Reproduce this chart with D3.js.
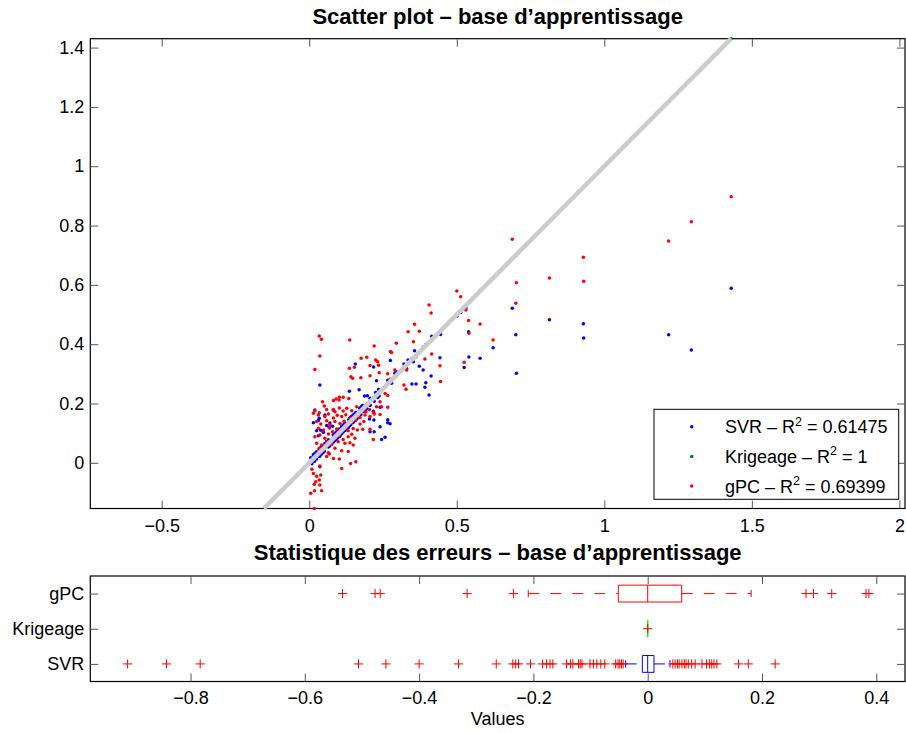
<!DOCTYPE html>
<html>
<head>
<meta charset="utf-8">
<script src="https://cdn.jsdelivr.net/npm/d3@7"></script>
<style>
  html, body { margin: 0; padding: 0; background: #fff; }
  svg { display: block; font-family: "Liberation Sans", Arial, Helvetica, sans-serif; }
</style>
</head>
<body>
<svg id="chart" width="906" height="733"></svg>
<script>
// ---------------------------------------------------------------------------
// Training base: observed value and the prediction of each surrogate model
// ---------------------------------------------------------------------------
const truth = [
  1.430, 1.295, 1.218, 0.929, 0.930, 0.814, 0.688, 0.700, 0.702, 0.623, 0.579, 0.540, 0.541, 0.525, 0.500, 0.513, 0.531, 0.443,
  0.406, 0.413, 0.357, 0.335, 0.373, 0.353, 0.295, 0.275, 0.279, 0.392, 0.415, 0.445, 0.290, 0.330, 0.321, 0.328, 0.266, 0.274,
  0.266, 0.257, 0.245, 0.266, 0.386, 0.348, 0.362, 0.395, 0.240, 0.228, 0.218, 0.220, 0.176, 0.195, 0.225, 0.232, 0.136, 0.153,
  0.206, 0.235, 0.175, 0.141, 0.147, 0.206, 0.237, 0.156, 0.169, 0.187, 0.197,
  0.034, 0.041, 0.036, 0.019, 0.137,
  0.045, 0.051, 0.082, 0.091, 0.102, 0.115, 0.101, 0.134,
  0.019, 0.034, 0.059, 0.082, 0.087, 0.102, 0.115, 0.127, 0.144, 0.161, 0.178, 0.192, 0.204, 0.219,
  0.014, 0.031, 0.053, 0.065, 0.082, 0.095, 0.110, 0.124, 0.138, 0.155, 0.172, 0.189, 0.206, 0.220, 0.240,
  0.025, 0.039, 0.059, 0.070, 0.087, 0.104, 0.118, 0.132, 0.144, 0.158, 0.172, 0.185,
  0.031, 0.048, 0.068, 0.079, 0.093, 0.110, 0.121, 0.132, 0.149, 0.163, 0.181, 0.206,
  0.019, 0.036, 0.053, 0.065, 0.082, 0.102, 0.115, 0.132, 0.144, 0.155, 0.217,
  0.025, 0.042, 0.059, 0.076, 0.098, 0.121, 0.138, 0.149,
  0.034, 0.048, 0.065, 0.087, 0.110, 0.132,
  0.014, 0.068, 0.082, 0.102, 0.059, 0.140, 0.158,
  0.009, 0.036, 0.110,
  0.014, 0.025, 0.039, 0.034, 0.022, 0.017, 0.036, 0.005, 0.018, 0.042, 0.017
];

const svrPred = [
  0.589, 0.380, 0.432, 0.469, 0.421, 0.482, 0.521, 0.432, 0.302, 0.388, 0.353, 0.442, 0.357, 0.321, 0.494, 0.507, 0.522, 0.354,
  0.229, 0.293, 0.378, 0.347, 0.326, 0.341, 0.307, 0.345, 0.268, 0.255, 0.427, 0.433, 0.302, 0.318, 0.333, 0.316, 0.278, 0.132,
  0.135, 0.086, 0.079, 0.145, 0.313, 0.266, 0.266, 0.270, 0.187, 0.277, 0.323, 0.208, 0.188, 0.183, 0.237, 0.220, 0.241, 0.165,
  0.194, 0.247, 0.163, 0.153, 0.135, 0.218, 0.225, 0.333, 0.246, 0.225, 0.226,
  0.022, 0.053, 0.262, 0.031, 0.125,
  0.057, 0.040, 0.094, 0.079, 0.114, 0.104, 0.090, 0.146,
  0.178, 0.150, 0.071, 0.070, 0.099, 0.090, 0.127, 0.115, 0.156, 0.149, 0.190, 0.180, 0.148, 0.144,
  0.135, 0.143, 0.161, 0.077, 0.177, 0.083, 0.122, 0.112, 0.150, 0.143, 0.184, 0.177, 0.105, 0.105, 0.122,
  0.108, 0.110, 0.126, 0.134, 0.099, 0.092, 0.130, 0.120, 0.156, 0.146, 0.184, 0.173,
  0.091, 0.103, 0.120, 0.123, 0.105, 0.098, 0.133, 0.120, 0.161, 0.151, 0.193, 0.194,
  0.031, 0.024, 0.065, 0.053, 0.094, 0.090, 0.127, 0.120, 0.156, 0.143, 0.174,
  0.037, 0.030, 0.071, 0.064, 0.110, 0.109, 0.150, 0.137,
  0.046, 0.036, 0.077, 0.075, 0.122, 0.120,
  0.026, 0.056, 0.094, 0.090, 0.071, 0.128, 0.170,
  -0.003, -0.013, 0.122,
  0.026, 0.013, 0.051, 0.022, 0.034, 0.005, 0.048, 0.017, 0.006, 0.054, 0.029
];

// Kriging interpolates the training base exactly (R² = 1)
const krigPred = truth.slice();

const gpcPred = [
  0.897, 0.813, 0.748, 0.693, 0.612, 0.623, 0.754, 0.538, 0.607, 0.414, 0.468, 0.480, 0.437, 0.339, 0.579, 0.560, 0.515, 0.327,
  0.532, 0.505, 0.467, 0.442, 0.444, 0.408, 0.403, 0.375, 0.372, 0.350, 0.367, 0.274, 0.313, 0.313, 0.262, 0.248, 0.300, 0.282,
  0.227, 0.234, 0.189, 0.187, 0.390, 0.352, 0.358, 0.399, 0.206, 0.189, 0.169, 0.394, 0.353, 0.356, 0.347, 0.341, 0.319, 0.322,
  0.328, 0.329, 0.287, 0.290, 0.285, 0.294, 0.304, 0.150, 0.172, 0.190, 0.200,
  0.428, 0.417, 0.360, 0.315, 0.414,
  0.206, 0.192, 0.210, 0.215, 0.221, 0.221, 0.212, 0.217,
  0.176, 0.169, 0.180, 0.180, 0.172, 0.185, 0.175, 0.184, 0.176, 0.189, 0.172, 0.172, 0.180, 0.169,
  0.167, 0.161, 0.156, 0.165, 0.151, 0.160, 0.156, 0.162, 0.150, 0.158, 0.153, 0.161, 0.156, 0.165, 0.163,
  0.139, 0.131, 0.142, 0.129, 0.139, 0.133, 0.140, 0.128, 0.135, 0.144, 0.131, 0.139,
  0.116, 0.111, 0.117, 0.105, 0.114, 0.105, 0.116, 0.108, 0.116, 0.111, 0.113, 0.113,
  0.088, 0.094, 0.083, 0.097, 0.086, 0.093, 0.079, 0.088, 0.096, 0.083, 0.079,
  0.066, 0.060, 0.071, 0.063, 0.071, 0.066, 0.068, 0.060,
  0.049, 0.043, 0.034, 0.049, 0.041, 0.038,
  0.009, 0.030, 0.015, 0.013, 0.021, -0.002, 0.004,
  -0.022, -0.011, -0.019,
  -0.036, -0.045, -0.041, -0.058, -0.064, -0.072, -0.075, -0.103, -0.094, -0.094, -0.154
];

const seriesNames = ["SVR", "Krigeage", "gPC"];
const seriesR2 = ["0.61475", "1", "0.69399"];

// Scatter axes
const scatterXLim = [-0.742, 2.019];
const scatterYLim = [-0.154, 1.430];
const scatterXTicks = [-0.5, 0, 0.5, 1, 1.5, 2];
const scatterYTicks = [0, 0.2, 0.4, 0.6, 0.8, 1, 1.2, 1.4];

// ---------------------------------------------------------------------------
// Error statistics (prediction − observation), one row per model
// ---------------------------------------------------------------------------
const boxGroups   = ["SVR", "Krigeage", "gPC"];      // rows 1..3, bottom to top
const boxQ1       = [-0.0094, 0, -0.0514];
const boxMedian   = [0.0, 0, 0.0];
const boxQ3       = [0.011, 0, 0.0595];
const whiskerLow  = [-0.0385, 0, -0.209];
const whiskerHigh = [0.039, 0, 0.181];
const svrOutliers = [
  -0.910, -0.842, -0.783, -0.506, -0.458, -0.400, -0.331, -0.265, -0.236, -0.231, -0.226, -0.205,
  -0.184, -0.177, -0.171, -0.166, -0.142, -0.135, -0.131, -0.121, -0.118, -0.115, -0.101, -0.095,
  -0.089, -0.082, -0.075, -0.056, -0.052, -0.049, -0.046, -0.043,
  0.044, 0.048, 0.052, 0.055, 0.060, 0.064, 0.067, 0.071, 0.077, 0.083, 0.095, 0.103, 0.108,
  0.112, 0.116, 0.121, 0.159, 0.176, 0.223
];
const krigOutliers = [0];
const gpcOutliers  = [-0.534, -0.477, -0.468, -0.316, -0.235, 0.277, 0.290, 0.322, 0.382, 0.387];
const boxOutliers  = [svrOutliers, krigOutliers, gpcOutliers];

const boxXLim  = [-0.9753, 0.4502];
const boxXTicks = [-0.8, -0.6, -0.4, -0.2, 0, 0.2, 0.4];

// ---------------------------------------------------------------------------
// Drawing
// ---------------------------------------------------------------------------
const FONT = "Liberation Sans, Arial, Helvetica, sans-serif";
const TICK_FS = 18;
const TITLE_FS = 22;
const svg = d3.select("#chart");
const fmt = d3.format("~g");

function styleAxis(sel) {
  sel.attr("font-size", null).attr("font-family", null);
  sel.select(".domain").remove();
  sel.selectAll(".tick line").attr("stroke", "#555").attr("stroke-width", 1);
  sel.selectAll(".tick text")
    .attr("fill", "#000")
    .style("font-size", TICK_FS + "px")
    .style("font-family", FONT);
  return sel;
}

function frame(p) {
  svg.append("rect")
    .attr("x", p.left).attr("y", p.top)
    .attr("width", p.right - p.left).attr("height", p.bottom - p.top)
    .attr("fill", "#fff").attr("stroke", "#000").attr("stroke-width", 1.2);
}

function inwardAxes(p, xs, ys, xTicks, yTicks, xFmt, yFmt, xPad) {
  svg.append("g").attr("transform", `translate(0,${p.bottom})`)
    .call(d3.axisBottom(xs).tickValues(xTicks).tickSizeInner(-8).tickSizeOuter(0)
      .tickPadding(xPad).tickFormat(xFmt))
    .call(styleAxis);
  svg.append("g").attr("transform", `translate(0,${p.top})`)
    .call(d3.axisTop(xs).tickValues(xTicks).tickSizeInner(-8).tickSizeOuter(0).tickFormat(""))
    .call(styleAxis);
  svg.append("g").attr("transform", `translate(${p.left},0)`)
    .call(d3.axisLeft(ys).tickValues(yTicks).tickSizeInner(-8).tickSizeOuter(0)
      .tickPadding(6).tickFormat(yFmt))
    .call(styleAxis);
  svg.append("g").attr("transform", `translate(${p.right},0)`)
    .call(d3.axisRight(ys).tickValues(yTicks).tickSizeInner(-8).tickSizeOuter(0).tickFormat(""))
    .call(styleAxis);
}

// ----- Scatter plot -----
const sp = { left: 90.3, right: 905, top: 38.7, bottom: 508.5 };
const sx = d3.scaleLinear().domain(scatterXLim).range([sp.left, sp.right]);
const sy = d3.scaleLinear().domain(scatterYLim).range([sp.bottom, sp.top]);

frame(sp);
inwardAxes(sp, sx, sy, scatterXTicks, scatterYTicks, fmt, fmt, 10.5);

svg.append("text")
  .attr("x", (sp.left + sp.right) / 2).attr("y", 24)
  .attr("text-anchor", "middle")
  .style("font-family", FONT).style("font-size", TITLE_FS + "px").style("font-weight", "bold")
  .text("Scatter plot – base d’apprentissage");

const scatterColors = ["#0000ff", "#008000", "#ff0000"];
const predictions = [svrPred, krigPred, gpcPred];
const dots = svg.append("g");
predictions.forEach((vals, k) => {
  dots.append("g").selectAll("circle")
    .data(vals)
    .join("circle")
    .attr("cx", (d, i) => sx(truth[i]))
    .attr("cy", d => sy(d))
    .attr("r", 1.75)
    .attr("fill", scatterColors[k]);
});

// first bisector over the range of the data
const allValues = truth.concat(svrPred, gpcPred);
const diag = d3.extent(allValues);
svg.append("line")
  .attr("x1", sx(diag[0])).attr("y1", sy(diag[0]))
  .attr("x2", sx(diag[1])).attr("y2", sy(diag[1]))
  .attr("stroke", "#cccccc").attr("stroke-width", 4.5);

// legend
const lg = { x: 654, y: 409.3, w: 244.7, h: 90, rowGap: 29.7, first: 17.4 };
const legend = svg.append("g");
legend.append("rect")
  .attr("x", lg.x).attr("y", lg.y).attr("width", lg.w).attr("height", lg.h)
  .attr("fill", "#fff").attr("stroke", "#000").attr("stroke-width", 1);
seriesNames.forEach((name, k) => {
  const cy = lg.y + lg.first + k * lg.rowGap;
  legend.append("circle").attr("cx", lg.x + 37.7).attr("cy", cy).attr("r", 1.75)
    .attr("fill", scatterColors[k]);
  const t = legend.append("text")
    .attr("x", lg.x + 71).attr("y", cy + 6.4)
    .style("font-family", FONT).style("font-size", TICK_FS + "px");
  t.append("tspan").text(`${name} – R`);
  t.append("tspan").attr("dy", -7.5).style("font-size", "12.5px").text("2");
  t.append("tspan").attr("dy", 7.5).text(` = ${seriesR2[k]}`);
});

// ----- Error box plots -----
const bp = { left: 90.3, right: 905, top: 576, bottom: 681.5 };
const bx = d3.scaleLinear().domain(boxXLim).range([bp.left, bp.right]);
const by = d3.scaleLinear().domain([0.5, boxGroups.length + 0.5]).range([bp.bottom, bp.top]);

frame(bp);
inwardAxes(bp, bx, by, boxXTicks, [1, 2, 3], fmt, (d) => boxGroups[d - 1], 10);

svg.append("text")
  .attr("x", (bp.left + bp.right) / 2).attr("y", 560)
  .attr("text-anchor", "middle")
  .style("font-family", FONT).style("font-size", TITLE_FS + "px").style("font-weight", "bold")
  .text("Statistique des erreurs – base d’apprentissage");

svg.append("text")
  .attr("x", (bp.left + bp.right) / 2).attr("y", 725)
  .attr("text-anchor", "middle")
  .style("font-family", FONT).style("font-size", TICK_FS + "px")
  .text("Values");

const boxColors = ["#0000ff", "#00ff00", "#ff0000"];
const boxes = svg.append("g");
boxGroups.forEach((name, i) => {
  const row = i + 1, col = boxColors[i];
  const g = boxes.append("g").attr("fill", "none").attr("stroke", col).attr("stroke-width", 1);
  const yt = by(row + 0.24), yb = by(row - 0.24), yc = by(row);
  // whiskers
  [[whiskerLow[i], boxQ1[i]], [boxQ3[i], whiskerHigh[i]]].forEach(([a, b]) => {
    g.append("line").attr("x1", bx(a)).attr("x2", bx(b)).attr("y1", yc).attr("y2", yc)
      .attr("stroke-dasharray", "11,11");
  });
  // whisker caps
  [whiskerLow[i], whiskerHigh[i]].forEach(v => {
    g.append("line").attr("x1", bx(v)).attr("x2", bx(v))
      .attr("y1", by(row + 0.105)).attr("y2", by(row - 0.105));
  });
  // box and median
  g.append("path")
    .attr("d", `M${bx(boxQ1[i])},${yt}H${bx(boxQ3[i])}V${yb}H${bx(boxQ1[i])}Z`);
  g.append("line").attr("x1", bx(boxMedian[i])).attr("x2", bx(boxMedian[i]))
    .attr("y1", yt).attr("y2", yb);
  // outliers
  boxes.append("g").selectAll("path")
    .data(boxOutliers[i])
    .join("path")
    .attr("d", v => `M${bx(v) - 4.6},${yc}H${bx(v) + 4.6}M${bx(v)},${yc - 4.6}V${yc + 4.6}`)
    .attr("fill", "none").attr("stroke", "#ff0000").attr("stroke-width", 1);
});
</script>
</body>
</html>
